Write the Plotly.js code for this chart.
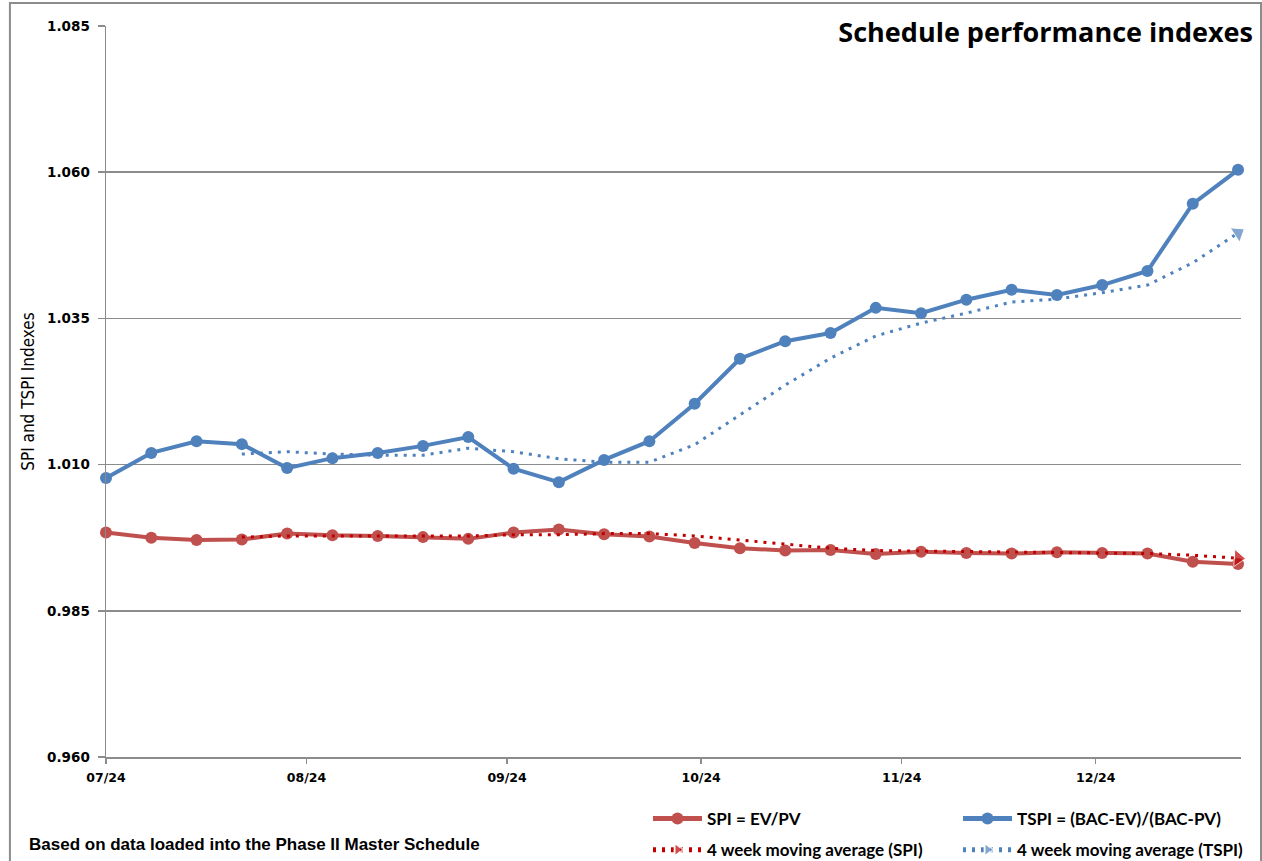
<!DOCTYPE html>
<html>
<head>
<meta charset="utf-8">
<script src="https://cdn.plot.ly/plotly-3.0.1.min.js"></script>
<style>html,body{margin:0;padding:0;background:#fff;}#chart{width:1262px;height:861px;}</style>
</head>
<body>
<div id="chart"></div>
<script>
var weeks = ['2024-07-01','2024-07-08','2024-07-15','2024-07-22','2024-07-29','2024-08-05','2024-08-12','2024-08-19','2024-08-26',
  '2024-09-02','2024-09-09','2024-09-16','2024-09-23','2024-09-30','2024-10-07','2024-10-14','2024-10-21','2024-10-28',
  '2024-11-04','2024-11-11','2024-11-18','2024-11-25','2024-12-02','2024-12-09','2024-12-16','2024-12-23'];

var spi = [0.9984,0.9975,0.9971,0.9972,0.9982,0.9979,0.9978,0.9976,0.9973,0.9984,0.9989,0.9981,0.9977,
  0.9966,0.9957,0.9953,0.9954,0.9947,0.9951,0.9949,0.9948,0.9950,0.9949,0.9948,0.9934,0.9930];

var tspi = [1.0077,1.0120,1.0140,1.0135,1.0094,1.0111,1.0120,1.0132,1.0147,1.0093,1.0070,1.0108,1.0140,
  1.0204,1.0281,1.0311,1.0325,1.0368,1.0359,1.0382,1.0399,1.0390,1.0407,1.0431,1.0546,1.0604];

var spiMA = [null,null,null,0.9976,0.9978,0.9978,0.9978,0.9978,0.9978,0.9980,0.9980,0.9982,0.9982,
  0.9978,0.9971,0.9964,0.9957,0.9953,0.9952,0.9951,0.9950,0.9949,0.9949,0.9948,0.9945,0.9940];

var tspiMA = [null,null,null,1.0118,1.0122,1.0118,1.0116,1.0116,1.0128,1.0122,1.0110,1.0104,1.0104,
  1.0134,1.0185,1.0236,1.0282,1.0320,1.0342,1.0359,1.0378,1.0383,1.0394,1.0407,1.0445,1.0496];

var seriesNames = ['SPI = EV/PV','TSPI = (BAC-EV)/(BAC-PV)','4 week moving average (SPI)','4 week moving average (TSPI)'];
var yTicks = [0.960,0.985,1.010,1.035,1.060,1.085];
var chartTitle = 'Schedule performance indexes';
var yTitle = 'SPI and TSPI Indexes';
var note = 'Based on data loaded into the Phase II Master Schedule';

var RED = '#C0504D', BLUE = '#4F81BD', DRED = '#C00000';
var GRID = '#8c8c8c';

function arrowSizes(arr, s) {
  var last = arr.length - 1;
  return arr.map(function (v, i) { return i === last ? s : 0; });
}

var traces = [
  {x: weeks, y: spi, name: seriesNames[0], type: 'scatter', mode: 'lines+markers',
   line: {color: RED, width: 4}, marker: {color: RED, size: 12}, legend: 'legend', legendgroup: 'a', cliponaxis: false},
  {x: weeks, y: spiMA, name: seriesNames[2], type: 'scatter', mode: 'lines+markers',
   line: {color: DRED, width: 3, dash: '3px,6px'},
   marker: {color: DRED, symbol: 'triangle-up', size: arrowSizes(spiMA, 15), angleref: 'previous'},
   legend: 'legend', legendgroup: 'b', cliponaxis: false},
  {x: weeks, y: tspi, name: seriesNames[1], type: 'scatter', mode: 'lines+markers',
   line: {color: BLUE, width: 4}, marker: {color: BLUE, size: 12}, legend: 'legend2', legendgroup: 'c', cliponaxis: false},
  {x: weeks, y: tspiMA, name: seriesNames[3], type: 'scatter', mode: 'lines+markers',
   line: {color: BLUE, width: 3, dash: '3px,6px'},
   marker: {color: BLUE, symbol: 'triangle-up', size: arrowSizes(tspiMA, 15), angleref: 'previous'},
   legend: 'legend2', legendgroup: 'd', cliponaxis: false}
];

var legendFont = {family: 'Lato, sans-serif', size: 17, color: '#000', weight: 'bold'};
var layout = {
  width: 1262, height: 861,
  margin: {l: 106, r: 21, t: 26, b: 104, autoexpand: false},
  paper_bgcolor: '#fff', plot_bgcolor: '#fff',
  showlegend: true,
  title: {text: '<b>' + chartTitle + '</b>', xref: 'container', x: 1253 / 1262, xanchor: 'right',
          yref: 'container', y: 1 - 33 / 861, yanchor: 'middle',
          font: {family: '"Open Sans", sans-serif', size: 27, color: '#000'}},
  xaxis: {type: 'date', range: ['2024-07-01', '2024-12-23 11:00'],
          tick0: '2024-07-01', dtick: 'M1', tickformat: '%m/%y',
          ticks: 'outside', ticklen: 5, tickwidth: 1.5, tickcolor: GRID, ticklabelstandoff: 3,
          showline: true, linecolor: GRID, linewidth: 1.5, showgrid: false, zeroline: false,
          tickfont: {family: '"DejaVu Sans", sans-serif', size: 12.5, color: '#000', weight: 'bold'}},
  yaxis: {range: [0.96, 1.085], tickvals: yTicks, tickformat: '.3f',
          ticks: 'outside', ticklen: 7, tickwidth: 1.5, tickcolor: GRID, ticklabelstandoff: 5,
          showline: true, linecolor: GRID, linewidth: 1.5,
          showgrid: true, gridcolor: GRID, gridwidth: 1.5, zeroline: false,
          tickfont: {family: '"DejaVu Sans", sans-serif', size: 13.5, color: '#000', weight: 'bold'},
          title: {text: yTitle, standoff: 8, font: {family: '"DejaVu Sans Condensed", sans-serif', size: 17, color: '#000'}}},
  legend: {xref: 'container', yref: 'container', x: 648 / 1262, y: 1 - 801 / 861, xanchor: 'left', yanchor: 'top',
           orientation: 'v', traceorder: 'grouped', tracegroupgap: 6, itemwidth: 49, itemsizing: 'constant',
           bgcolor: 'rgba(0,0,0,0)', font: legendFont},
  legend2: {xref: 'container', yref: 'container', x: 958 / 1262, y: 1 - 801 / 861, xanchor: 'left', yanchor: 'top',
           orientation: 'v', traceorder: 'grouped', tracegroupgap: 6, itemwidth: 49, itemsizing: 'constant',
           bgcolor: 'rgba(0,0,0,0)', font: legendFont},
  annotations: [
    {text: '<b>' + note + '</b>', xref: 'paper', yref: 'paper', x: (27 - 106) / 1134, y: (757 - 844) / 731,
     xanchor: 'left', yanchor: 'middle', showarrow: false,
     font: {family: '"Liberation Sans", Arial, sans-serif', size: 17, color: '#000'}}
  ],
  shapes: [
    {type: 'rect', xref: 'paper', yref: 'paper', x0: (10 - 106) / 1134, x1: (1260 - 106) / 1134,
     y0: (757 - 870) / 731, y1: (757 - 3) / 731, line: {color: GRID, width: 2}, fillcolor: 'rgba(0,0,0,0)', layer: 'below'}
  ]
};

Plotly.newPlot('chart', traces, layout, {staticPlot: true, displayModeBar: false});
</script>
</body>
</html>
